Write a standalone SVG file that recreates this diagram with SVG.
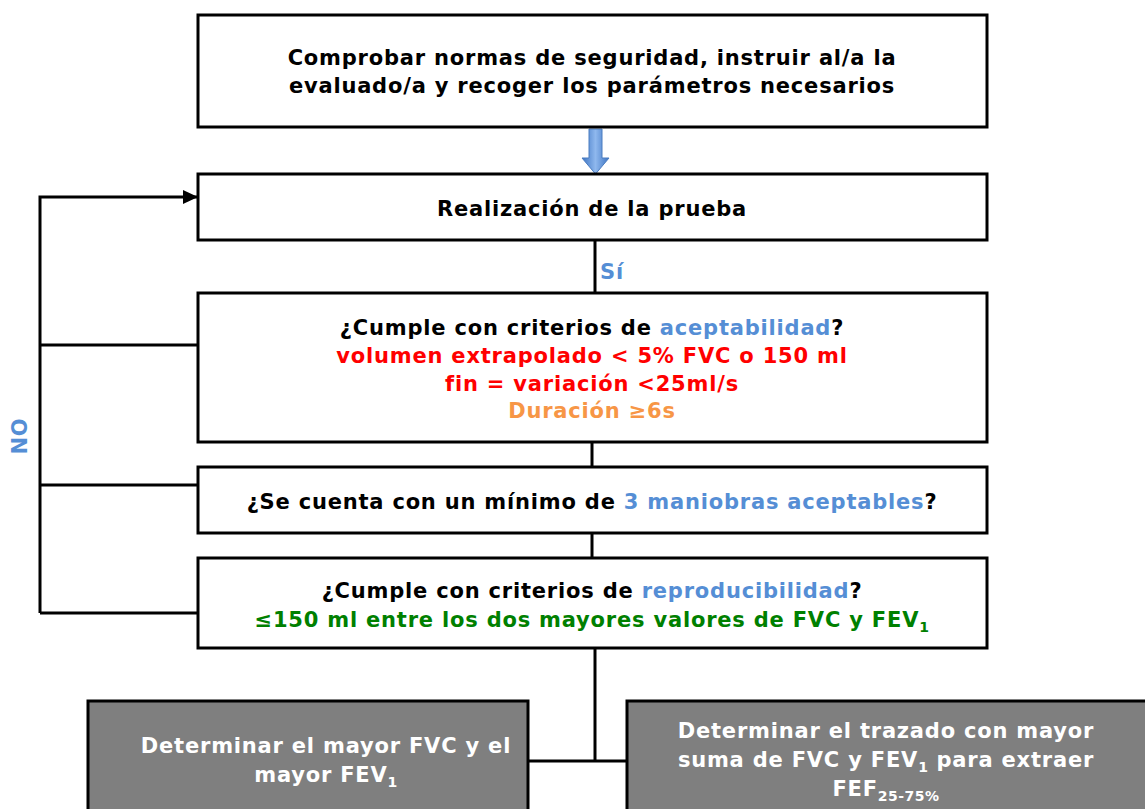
<svg xmlns="http://www.w3.org/2000/svg" width="1145" height="809" viewBox="0 0 1145 809">
<style>
.box{fill:#fff;stroke:#000;stroke-width:3}
.gbox{fill:#7f7f7f;stroke:#000;stroke-width:3}
text{font-family:"DejaVu Sans","Liberation Sans",sans-serif;font-weight:bold;font-size:21px;letter-spacing:0.8px;text-anchor:middle}
.w{fill:#fff}
.b{fill:#558ed5}
.r{fill:#ff0000}
.o{fill:#f79646}
.g{fill:#008000}
.ln{fill:none;stroke:#000;stroke-width:3}
.sub{font-size:14px;letter-spacing:0.5px}
</style>
<defs>
<marker id="ah" markerWidth="16" markerHeight="16" refX="14" refY="7" orient="auto" markerUnits="userSpaceOnUse">
<path d="M0,0 L15,7 L0,14 z" fill="#000"/>
</marker>
<linearGradient id="bg" x1="0" y1="0" x2="1" y2="0">
<stop offset="0" stop-color="#3d74c2"/>
<stop offset="0.5" stop-color="#8fb8ee"/>
<stop offset="1" stop-color="#3d74c2"/>
</linearGradient>
</defs>
<g id="connectors">
<path class="ln" d="M595,233 V300"/>
<path class="ln" d="M592,441 V468"/>
<path class="ln" d="M592,532 V559"/>
<path class="ln" d="M595,647 V761"/>
<path class="ln" d="M528,761 H627"/>
<path class="ln" d="M40,613 V197 H197" marker-end="url(#ah)"/>
<path class="ln" d="M40,345 H197"/>
<path class="ln" d="M40,485 H197"/>
<path class="ln" d="M40,613 H197"/>
<path d="M589,129 H602 V158 H609 L595.5,174 L582,158 H589 Z" fill="url(#bg)" stroke="#4a7cc0" stroke-width="1"/>
<text class="b" x="612" y="279">Sí</text>
<text class="b" transform="translate(27,436) rotate(-90)">NO</text>
</g>
<g id="n1">
<rect class="box" x="198" y="15" width="789" height="112"/>
<text x="592" y="65">Comprobar normas de seguridad, instruir al/a la</text>
<text x="592" y="93">evaluado/a y recoger los parámetros necesarios</text>
</g>
<g id="n2">
<rect class="box" x="198" y="174" width="789" height="66"/>
<text x="592" y="216">Realización de la prueba</text>
</g>
<g id="n3">
<rect class="box" x="198" y="293" width="789" height="149"/>
<text x="592" y="335">¿Cumple con criterios de <tspan class="b">aceptabilidad</tspan>?</text>
<text class="r" x="592" y="363">volumen extrapolado &lt; 5% FVC o 150 ml</text>
<text class="r" x="592" y="391">fin = variación &lt;25ml/s</text>
<text class="o" x="592" y="418">Duración ≥6s</text>
</g>
<g id="n4">
<rect class="box" x="198" y="467" width="789" height="66"/>
<text x="592" y="509">¿Se cuenta con un mínimo de <tspan class="b">3 maniobras aceptables</tspan>?</text>
</g>
<g id="n5">
<rect class="box" x="198" y="558" width="789" height="90"/>
<text x="592" y="598">¿Cumple con criterios de <tspan class="b">reproducibilidad</tspan>?</text>
<text class="g" x="592" y="627">≤150 ml entre los dos mayores valores de FVC y FEV<tspan class="sub" dy="5">1</tspan></text>
</g>
<g id="n6">
<rect class="gbox" x="88" y="701" width="440" height="120"/>
<text class="w" x="326" y="753">Determinar el mayor FVC y el</text>
<text class="w" x="326" y="782">mayor FEV<tspan class="sub" dy="5">1</tspan></text>
</g>
<g id="n7">
<rect class="gbox" x="627" y="701" width="530" height="120"/>
<text class="w" x="886" y="738">Determinar el trazado con mayor</text>
<text class="w" x="886" y="767">suma de FVC y FEV<tspan class="sub" dy="5">1</tspan><tspan dy="-5"> para extraer</tspan></text>
<text class="w" x="886" y="796">FEF<tspan class="sub" dy="5">25-75%</tspan></text>
</g>
</svg>
